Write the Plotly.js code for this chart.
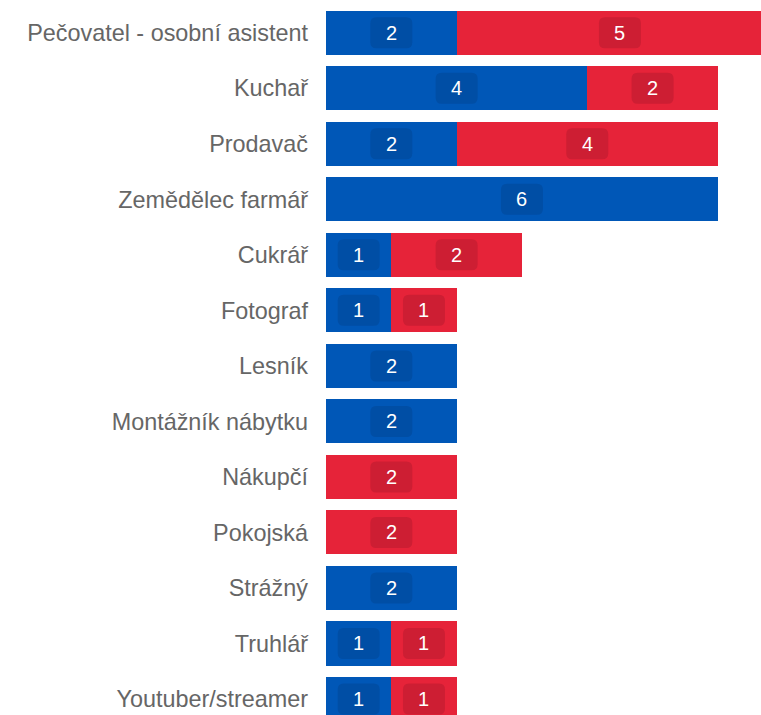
<!DOCTYPE html>
<html>
<head>
<meta charset="utf-8">
<script src="https://cdn.plot.ly/plotly-3.0.1.min.js"></script>
<style>
html,body{margin:0;padding:0;overflow:hidden;background:#fff;}
#chart{width:761px;height:715px;}
</style>
</head>
<body>
<div id="chart"></div>
<script>
const categories = ["Pečovatel - osobní asistent","Kuchař","Prodavač","Zemědělec farmář","Cukrář","Fotograf","Lesník","Montážník nábytku","Nákupčí","Pokojská","Strážný","Truhlář","Youtuber/streamer"];
const blueValues = [2,4,2,6,1,1,2,2,0,0,2,1,1];
const redValues  = [5,2,4,0,2,1,0,0,2,2,0,1,1];

const BLUE = "#0057b7", BLUE_BOX = "#004ea5";
const RED = "#e62339", RED_BOX = "#cd1e33";
const FONT = "'Liberation Sans', Arimo, Arial, sans-serif";

function roundRect(w, h, r){
  const x0=-w/2, x1=w/2, y0=-h/2, y1=h/2;
  return `M ${x0+r},${y0} L ${x1-r},${y0} Q ${x1},${y0} ${x1},${y0+r} L ${x1},${y1-r} Q ${x1},${y1} ${x1-r},${y1} L ${x0+r},${y1} Q ${x0},${y1} ${x0},${y1-r} L ${x0},${y0+r} Q ${x0},${y0} ${x0+r},${y0} Z`;
}

const idx = categories.map((c,i)=>i);
const traces = [
  {type:"bar", orientation:"h", y:idx, x:blueValues, marker:{color:BLUE, line:{width:0}}, hoverinfo:"skip"},
  {type:"bar", orientation:"h", y:idx, x:redValues, marker:{color:RED, line:{width:0}}, hoverinfo:"skip"}
];

const shapes = [], annotations = [];
const boxPath = roundRect(42, 31, 6);
function addLabel(xc, yi, v, boxColor){
  shapes.push({type:"path", xref:"x", yref:"y", xsizemode:"pixel", ysizemode:"pixel",
    xanchor:xc, yanchor:yi, path:boxPath, fillcolor:boxColor, line:{width:0}, layer:"above"});
  annotations.push({x:xc, y:yi, xref:"x", yref:"y", text:String(v), showarrow:false,
    font:{family:FONT, size:20, color:"#ffffff"}});
}
idx.forEach(i=>{
  if(blueValues[i]>0) addLabel(blueValues[i]/2, i, blueValues[i], BLUE_BOX);
  if(redValues[i]>0) addLabel(blueValues[i]+redValues[i]/2, i, redValues[i], RED_BOX);
});

const layout = {
  width:761, height:715,
  margin:{l:326, r:0, t:5, b:0, pad:0},
  barmode:"stack", bargap:0.207,
  showlegend:false,
  paper_bgcolor:"#fff", plot_bgcolor:"#fff",
  xaxis:{range:[0,6.66], showgrid:false, zeroline:false, showticklabels:false, ticks:"", showline:false, fixedrange:true},
  yaxis:{range:[12.288,-0.5], tickmode:"array", tickvals:idx, ticktext:categories, showgrid:false, zeroline:false,
    ticks:"", showline:false, ticklabelstandoff:17,
    tickfont:{family:FONT, size:23.4, color:"#666666"}, fixedrange:true},
  shapes:shapes, annotations:annotations,
  font:{family:FONT}
};
Plotly.newPlot("chart", traces, layout, {displayModeBar:false, staticPlot:true});
</script>
</body>
</html>
